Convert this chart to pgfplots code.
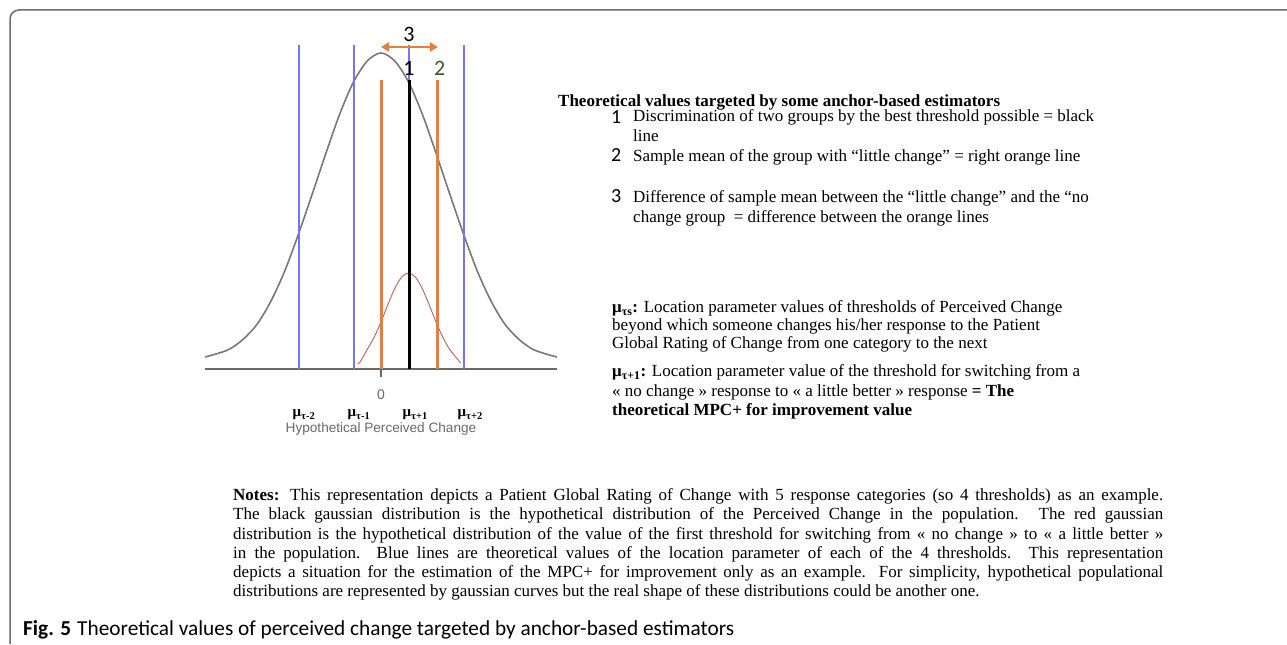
\documentclass[border=0pt]{standalone}
\usepackage{fontspec}
\setmainfont{Liberation Serif}
\newfontfamily\arial{Liberation Sans}
\newfontfamily\calibri{Carlito}
\usepackage{pgfplots}
\pgfplotsset{compat=1.18}
\usetikzlibrary{arrows.meta}

\definecolor{curvegray}{RGB}{120,120,120}
\definecolor{axisgray}{RGB}{105,105,105}
\definecolor{lblue}{RGB}{115,115,255}
\definecolor{lorange}{RGB}{237,125,49}
\definecolor{lred}{RGB}{200,95,85}
\definecolor{dgreen}{RGB}{55,90,35}
\definecolor{framegray}{RGB}{110,110,110}

\newcommand{\serif}{\fontsize{17bp}{20bp}\selectfont}
\newcommand{\notesfont}{\fontsize{17bp}{19bp}\selectfont}
\newcommand{\mulab}{\fontsize{15bp}{15bp}\selectfont\bfseries}
\newcommand{\numfont}{\calibri\fontsize{20bp}{20bp}\selectfont}

\begin{document}
\begin{tikzpicture}
\path[use as bounding box] (0,0) rectangle (1287bp,645bp);

% frame
\draw[framegray, line width=1.5bp, rounded corners=9bp] (1287bp,635bp) -- (10bp,635bp) -- (10bp,1bp);

\begin{axis}[
  at={(205bp,276bp)}, anchor=south west,
  scale only axis, width=352bp, height=340bp,
  xmin=-6.4, xmax=6.4, ymin=0, ymax=340,
  axis x line*=bottom, hide y axis,
  x axis line style={axisgray, line width=1.5bp, -},
  xtick={0}, xticklabels={},
  tick align=outside, major tick length=8bp,
  xtick style={axisgray, line width=1.2bp},
  clip=false,
]
  % population distribution
  \addplot[curvegray, line width=1.6bp, smooth, mark=none] coordinates {
    (-6.4,12) (-6,15) (-5.5,20) (-5,30) (-4.5,45) (-4,68) (-3.5,98) (-3,135)
    (-2.5,175) (-2,216) (-1.5,255) (-1,287) (-0.5,308) (0,316) (0.5,308)
    (1,287) (1.5,255) (2,216) (2.5,175) (3,135) (3.5,98) (4,68) (4.5,45)
    (5,30) (5.5,20) (6,15) (6.4,12)};

  % thresholds (blue)
  \addplot[lblue, line width=2bp, mark=none] coordinates {(-3,0) (-3,324)};
  \addplot[lblue, line width=2bp, mark=none] coordinates {(-1,0) (-1,324)};
  \addplot[lblue, line width=2bp, mark=none] coordinates {(1,0) (1,324)};
  \addplot[lblue, line width=2bp, mark=none] coordinates {(3,0) (3,324)};

  % distribution of first threshold (red)
  \addplot[lred, line width=0.9bp, smooth, mark=none] coordinates {
    (-0.85,5) (-0.75,7.5) (-0.5,19.5) (-0.25,31.7) (0,47) (0.25,64.4)
    (0.5,80.4) (0.75,91.9) (1,96) (1.25,91.9) (1.5,80.4) (1.75,64.4)
    (2,47) (2.25,31.7) (2.5,19.5) (2.75,10.9) (2.9,6)};

  % sample means (orange) and best threshold (black)
  \addplot[lorange, line width=3bp, mark=none] coordinates {(0,0) (0,289)};
  \addplot[lorange, line width=3bp, mark=none] coordinates {(2.07,0) (2.07,289)};
  \addplot[black, line width=3bp, mark=none] coordinates {(1.02,0) (1.02,289)};

  % difference arrow
  \addplot[lorange, line width=2.5bp, mark=none,
    {Triangle[length=8bp,width=9bp]}-{Triangle[length=8bp,width=9bp]}]
    coordinates {(0,322) (2.07,322)};

  \node[anchor=base, font=\calibri\fontsize{22bp}{22bp}\selectfont] at (axis cs:1.02,327) {3};
  \node[anchor=base, font=\calibri\fontsize{22bp}{22bp}\selectfont] at (axis cs:1.02,293) {1};
  \node[anchor=base, font=\calibri\fontsize{22bp}{22bp}\selectfont, text=dgreen] at (axis cs:2.13,293) {2};

  % axis labels
  \node[anchor=base, font=\arial\fontsize{14bp}{14bp}\selectfont, text=axisgray] at (axis cs:0,-31) {0};
  \node[anchor=base west, inner sep=0pt, font=\mulab, xshift=-6bp] at (axis cs:-3,-48) {μ\textsubscript{τ-2}};
  \node[anchor=base west, inner sep=0pt, font=\mulab, xshift=-6bp] at (axis cs:-1,-48) {μ\textsubscript{τ-1}};
  \node[anchor=base west, inner sep=0pt, font=\mulab, xshift=-6bp] at (axis cs:1,-48) {μ\textsubscript{τ+1}};
  \node[anchor=base west, inner sep=0pt, font=\mulab, xshift=-6bp] at (axis cs:3,-48) {μ\textsubscript{τ+2}};
  \node[anchor=base, font=\arial\fontsize{13.6bp}{14bp}\selectfont, text=axisgray] at (axis cs:0,-64) {Hypothetical Perceived Change};
\end{axis}

% right-hand legend text
\begin{scope}[every node/.style={anchor=base west, inner sep=0pt}]
\node[font=\fontsize{17bp}{20bp}\selectfont\bfseries] at (558bp,538bp) {Theoretical values targeted by some anchor-based estimators};

\node[font=\numfont] at (611bp,521.5bp) {1};
\node[font=\serif] at (633bp,523bp) {Discrimination of two groups by the best threshold possible = black};
\node[font=\serif] at (633bp,503bp) {line};
\node[font=\numfont] at (611bp,483bp) {2};
\node[font=\serif] at (633bp,483bp) {Sample mean of the group with “little change” = right orange line};
\node[font=\numfont] at (611bp,442bp) {3};
\node[font=\serif] at (633bp,442bp) {Difference of sample mean between the “little change” and the “no};
\node[font=\serif] at (633bp,422bp) {change group\ \ = difference between the orange lines};

\node[font=\serif] at (612bp,332bp) {\textbf{μ\textsubscript{τs}:} Location parameter values of thresholds of Perceived Change};
\node[font=\serif] at (612bp,314bp) {beyond which someone changes his/her response to the Patient};
\node[font=\serif] at (612bp,296bp) {Global Rating of Change from one category to the next};
\node[font=\serif] at (612bp,268bp) {\textbf{μ\textsubscript{τ+1}:} Location parameter value of the threshold for switching from a};
\node[font=\serif] at (612bp,248bp) {« no change » response to « a little better » response \textbf{= The}};
\node[font=\serif] at (612bp,229bp) {\textbf{theoretical MPC+ for improvement value}};

% notes
\node[font=\notesfont] at (233bp,144bp) {\makebox[930bp][s]{\textbf{Notes:} This representation depicts a Patient Global Rating of Change with 5 response categories (so 4 thresholds) as an example.}};
\node[font=\notesfont] at (233bp,125bp) {\makebox[930bp][s]{The black gaussian distribution is the hypothetical distribution of the Perceived Change in the population. The red gaussian}};
\node[font=\notesfont] at (233bp,105bp) {\makebox[930bp][s]{distribution is the hypothetical distribution of the value of the first threshold for switching from « no change » to « a little better »}};
\node[font=\notesfont] at (233bp,86bp) {\makebox[930bp][s]{in the population.\ \ Blue lines are theoretical values of the location parameter of each of the 4 thresholds. This representation}};
\node[font=\notesfont] at (233bp,67bp) {\makebox[930bp][s]{depicts a situation for the estimation of the MPC+ for improvement only as an example. For simplicity, hypothetical populational}};
\node[font=\notesfont] at (233bp,48bp) {distributions are represented by gaussian curves but the real shape of these distributions could be another one.};

% caption
\node[font=\calibri\fontsize{21.3bp}{21.3bp}\selectfont] at (23bp,10bp) {\textbf{Fig. 5}\hspace{6bp}Theoretical values of perceived change targeted by anchor-based estimators};
\end{scope}
\end{tikzpicture}
\end{document}
